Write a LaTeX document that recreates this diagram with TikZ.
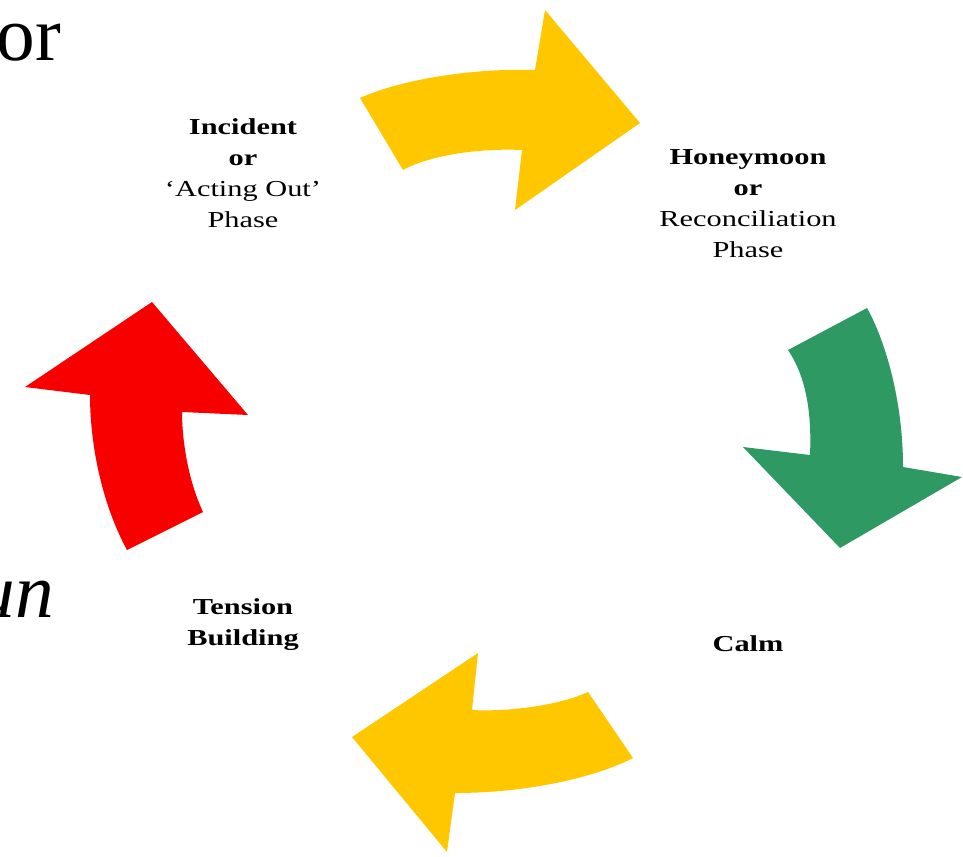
\documentclass[tikz,border=0pt]{standalone}
\usepackage{fontspec}
\setmainfont{Liberation Serif}
\newfontfamily\phasefont[FakeStretch=1.33]{Liberation Serif}
\usepackage{tikz}
\definecolor{cycyellow}{RGB}{255,199,0}
\definecolor{cycgreen}{RGB}{47,153,99}
\definecolor{cycred}{RGB}{248,0,0}

\begin{document}
\begin{tikzpicture}[
  x=0.02cm, y=-0.02cm,
  phase/.style={align=center, font=\phasefont\fontsize{13}{17.6}\selectfont},
  bigword/.style={anchor=base west, inner sep=0pt, font=\fontsize{44}{44}\selectfont},
  cycarrow/.style={draw=none}
]
\useasboundingbox (0,0) rectangle (963,856);

% stray words cut off at the edge
\node[bigword] (wor) at (-4,60) {or};
\node[bigword, font=\fontsize{44}{44}\selectfont\itshape] (wun) at (-24,617) {un};

% the four arrows of the cycle
\fill[cycarrow, cycyellow] (360,98) .. controls (400,80) and (470,68) .. (535,70) -- (545,10) -- (640,123)
  -- (515,210) -- (522,150) .. controls (480,148) and (430,155) .. (403,170) -- cycle;
\fill[cycarrow, cycgreen] (788,350) -- (867,308) .. controls (885,340) and (903,400) .. (903,467) -- (962,477)
  -- (840,548) -- (743,447) -- (810,455) .. controls (812,410) and (805,375) .. (788,350) -- cycle;
\fill[cycarrow, cycyellow] (588,692) -- (633,758) .. controls (590,780) and (520,793) .. (455,793) -- (447,852)
  -- (352,737) -- (478,653) -- (472,710) .. controls (510,712) and (560,705) .. (588,692) -- cycle;
\fill[cycarrow, cycred] (127,550) -- (203,512) .. controls (188,480) and (182,440) .. (182,412) -- (248,415)
  -- (152,302) -- (25,387) -- (90,395) .. controls (90,440) and (100,500) .. (127,550) -- cycle;

% phase labels
\node[phase] (incident) at (243,173) {\textbf{Incident}\\ \textbf{or}\\ ‘Acting Out’\\ Phase};
\node[phase] (honeymoon) at (748,204) {\textbf{Honeymoon}\\ \textbf{or}\\ Reconciliation\\ Phase};
\node[phase] (tension) at (243,625) {\textbf{Tension}\\ \textbf{Building}};
\node[phase] (calm) at (748,644) {\textbf{Calm}};
\end{tikzpicture}
\end{document}
